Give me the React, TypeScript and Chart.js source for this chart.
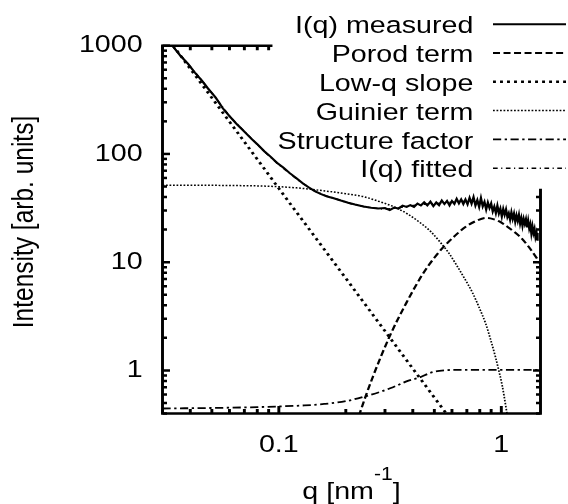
import { useEffect, useRef } from 'react';
import { Chart, registerables } from 'chart.js';

Chart.register(...registerables);

// ---------- data ----------
const measuredQ = [
  0.0335, 0.036, 0.039, 0.042, 0.045, 0.048, 0.052, 0.056, 0.06, 0.065, 0.07, 0.075, 0.08, 0.086, 0.092, 0.098,
  0.105, 0.112, 0.12, 0.128, 0.136, 0.145, 0.155, 0.165, 0.175, 0.19, 0.205, 0.22, 0.24, 0.26, 0.28,
  0.3, 0.315, 0.33, 0.345, 0.36, 0.375, 0.39, 0.405, 0.42, 0.435,
  0.45, 0.465, 0.48, 0.495, 0.51, 0.525, 0.54, 0.555, 0.57, 0.585, 0.6, 0.615, 0.63, 0.645, 0.66, 0.675, 0.69,
  0.705, 0.72, 0.735, 0.75, 0.765, 0.78, 0.795, 0.81, 0.825, 0.84, 0.855, 0.87, 0.885, 0.9, 0.915, 0.93, 0.945,
  0.96, 0.975, 0.99, 1.005, 1.02, 1.035, 1.05, 1.065, 1.08, 1.095, 1.11, 1.125, 1.14, 1.155, 1.17, 1.185, 1.2,
  1.215, 1.23, 1.245, 1.26, 1.275, 1.29, 1.305, 1.32, 1.335, 1.35, 1.365, 1.38, 1.395, 1.41, 1.425, 1.44, 1.455,
];
const measuredI = [
  979, 815, 682, 562, 478, 404, 332, 264, 224, 187, 161, 139, 123, 106, 94, 83,
  74.5, 66.5, 59.5, 53.5, 49.2, 45.3, 42.6, 40.4, 39.2, 37.1, 35.4, 34.1, 32.7, 31.9, 31.3,
  31.6, 30.3, 31.9, 31.3, 33.3, 32.4, 33.7, 32.4, 34.8, 33.4,
  35.7, 33.4, 36.2, 33.0, 35.6, 33.6, 37.2, 34.5, 36.8, 33.4, 36.8, 34.5, 38.5, 35.0, 38.0, 34.5, 38.0,
  34.3, 39.3, 34.8, 39.8, 33.4, 37.4, 32.5, 39.1, 32.8, 36.1, 30.7, 35.5, 31.7, 34.8, 29.5, 32.6, 28.5,
  33.2, 28.3, 31.2, 26.5, 31.0, 27.5, 30.7, 26.2, 28.3, 24.8, 28.9, 25.2, 28.0, 23.7, 27.0, 24.1, 27.3,
  22.8, 25.5, 21.8, 25.1, 22.7, 24.9, 21.0, 24.1, 20.5, 22.4, 18.5, 21.4, 18.6, 20.3, 17.1, 18.6, 15.8,
];

const porodQ = [0.2, 0.231, 0.265, 0.315, 0.374, 0.444, 0.5, 0.546, 0.62, 0.695, 0.78, 0.853, 0.92, 0.98, 1.08, 1.205, 1.33, 1.455, 1.5];
const porodI = [0.15, 0.4, 0.88, 2.07, 4.2, 7.8, 11.0, 13.6, 17.6, 21.4, 24.3, 25.6, 25.0, 23.8, 20.8, 17.4, 13.8, 10.6, 9.6];

const slopeQ = [0.0335, 0.05, 0.1, 0.2, 0.4, 0.6];
const slopeI = [1000, 330, 48, 7.1, 1.04, 0.34];

const guinierQ = [0.03, 0.05, 0.07, 0.085, 0.101, 0.12, 0.1426, 0.17, 0.2, 0.239, 0.28, 0.337, 0.38, 0.429, 0.48,
  0.527, 0.58, 0.625, 0.68, 0.743, 0.8, 0.851, 0.9, 0.944, 0.98, 1.01, 1.045, 1.08];
const guinierI = [51.5, 51.3, 50.9, 50.5, 49.8, 48.6, 46.9, 44.9, 42.8, 40.4, 36.6, 31.8, 27.8, 23.4, 19.3,
  15.6, 12.2, 9.6, 7.2, 5.2, 3.7, 2.7, 1.85, 1.3, 0.95, 0.72, 0.48, 0.32];

const structureQ = [0.03, 0.05, 0.08, 0.1, 0.13, 0.16, 0.2, 0.247, 0.29, 0.326, 0.38, 0.429, 0.48, 0.527, 0.6, 0.8, 1.0, 1.5];
const structureI = [0.445, 0.45, 0.458, 0.465, 0.475, 0.49, 0.52, 0.58, 0.64, 0.7, 0.8, 0.86, 0.95, 0.99, 1.01, 1.01, 1.01, 1.01];

const fittedQ = [0.0335, 0.04, 0.05, 0.06, 0.075, 0.09, 0.11, 0.13, 0.15, 0.18, 0.22, 0.26, 0.3, 0.35, 0.43, 0.55, 0.69, 0.8, 0.91, 1.0, 1.12, 1.29, 1.455];
const fittedI = [979, 640, 365, 225, 140, 97, 68, 52.5, 44, 38.5, 34.0, 31.9, 31.0, 32.0, 34.0, 35.2, 36.5, 35.3, 31.8, 29.5, 26.5, 23.1, 17.2];

const seriesLabels = ['I(q) measured', 'Porod term', 'Low-q slope', 'Guinier term', 'Structure factor', 'I(q) fitted'];

const xTickValues = [0.1, 1];
const yTickValues = [1, 10, 100, 1000];
const xMinorTicks = [0.03, 0.04, 0.05, 0.06, 0.07, 0.08, 0.09, 0.2, 0.3, 0.4, 0.5, 0.6, 0.7, 0.8, 0.9];
const yMinorTicks = [0.4, 0.5, 0.6, 0.7, 0.8, 0.9, 2, 3, 4, 5, 6, 7, 8, 9, 20, 30, 40, 50, 60, 70, 80, 90, 200, 300, 400, 500, 600, 700, 800, 900];

const xTitleMain = 'q [nm';
const xTitleSup = '-1';
const xTitleEnd = ']';
const yTitle = 'Intensity [arb. units]';

// ---------- layout ----------
const CANVAS_W = 568;
const CANVAS_H = 504;
const LAYOUT_W = 486;
const SX = CANVAS_W / LAYOUT_W;
const FONT = "'Liberation Sans', Arial, Helvetica, sans-serif";
const FONT_SIZE = 24.5;

const AREA_LEFT = 162.5 / SX;
const AREA_RIGHT = 540.5 / SX;
const AREA_TOP = 45.7;
const AREA_BOTTOM = 413.5;

const pts = (qs: number[], is: number[]) => qs.map((q, i) => ({ x: q, y: is[i] }));

const gnuplotFrame = {
  id: 'gnuplotFrame',
  beforeDraw(chart: any) {
    const ctx = chart.ctx;
    ctx.save();
    ctx.setTransform(SX, 0, 0, 1, 0, 0);
  },
  afterDraw(chart: any) {
    const ctx = chart.ctx;
    const { left, right, top, bottom } = chart.chartArea;
    const xs = chart.scales.x;
    const ys = chart.scales.y;
    const topEnd = 271 / SX;
    const rightStart = 190;
    ctx.save();
    ctx.strokeStyle = '#000';
    ctx.fillStyle = '#000';
    ctx.setLineDash([]);
    ctx.lineWidth = 2.5;
    ctx.lineCap = 'square';
    ctx.beginPath();
    ctx.moveTo(topEnd, top);
    ctx.lineTo(left, top);
    ctx.lineTo(left, bottom);
    ctx.lineTo(right, bottom);
    ctx.lineTo(right, rightStart);
    ctx.stroke();

    ctx.lineCap = 'butt';
    ctx.lineWidth = 2.5;
    const xTick = (v: number, len: number) => {
      const px = xs.getPixelForValue(v);
      ctx.beginPath();
      ctx.moveTo(px, bottom);
      ctx.lineTo(px, bottom - len);
      if (px <= topEnd) {
        ctx.moveTo(px, top);
        ctx.lineTo(px, top + len);
      }
      ctx.stroke();
    };
    const yTick = (v: number, len: number) => {
      const py = ys.getPixelForValue(v);
      const l = len / SX;
      ctx.beginPath();
      ctx.moveTo(left, py);
      ctx.lineTo(left + l, py);
      if (py >= rightStart - 1) {
        ctx.moveTo(right, py);
        ctx.lineTo(right - l, py);
      }
      ctx.stroke();
    };
    xTickValues.forEach((v) => xTick(v, 7.5));
    xMinorTicks.forEach((v) => xTick(v, 4.5));
    yTickValues.forEach((v) => yTick(v, 7.5));
    yMinorTicks.forEach((v) => yTick(v, 4.5));

    // key
    const textX = 405;
    const x0 = 493 / SX;
    const x1 = 566 / SX;
    ctx.font = `${FONT_SIZE}px ${FONT}`;
    ctx.textAlign = 'right';
    ctx.textBaseline = 'middle';
    chart.data.datasets.forEach((ds: any, i: number) => {
      const y = 24.2 + i * 28.8;
      ctx.save();
      ctx.lineWidth = ds.borderWidth;
      ctx.setLineDash(ds.borderDash || []);
      ctx.beginPath();
      ctx.moveTo(x0, y);
      ctx.lineTo(x1, y);
      ctx.stroke();
      ctx.restore();
      ctx.fillText(ds.label, textX, y + 2.5);
    });

    // y title (rotated)
    ctx.save();
    ctx.translate(21.5, 222);
    ctx.rotate(-Math.PI / 2);
    ctx.textAlign = 'center';
    ctx.textBaseline = 'middle';
    ctx.fillText(yTitle, 0, 0);
    ctx.restore();

    // x title with superscript
    const supFont = `18px ${FONT}`;
    const mainFont = `${FONT_SIZE}px ${FONT}`;
    ctx.textAlign = 'left';
    ctx.textBaseline = 'alphabetic';
    ctx.font = mainFont;
    const w1 = ctx.measureText(xTitleMain).width;
    const w3 = ctx.measureText(xTitleEnd).width;
    ctx.font = supFont;
    const w2 = ctx.measureText(xTitleSup).width;
    let tx = (left + right) / 2 - (w1 + w2 + w3) / 2;
    const base = 499;
    ctx.font = mainFont;
    ctx.fillText(xTitleMain, tx, base);
    tx += w1;
    ctx.font = supFont;
    ctx.fillText(xTitleSup, tx, base - 19);
    tx += w2;
    ctx.font = mainFont;
    ctx.fillText(xTitleEnd, tx, base);
    ctx.restore();
    ctx.restore();
  },
};

export default function App() {
  const ref = useRef<HTMLCanvasElement | null>(null);

  useEffect(() => {
    const canvas = ref.current;
    if (!canvas) return;
    canvas.width = LAYOUT_W;
    canvas.height = CANVAS_H;
    canvas.style.width = `${CANVAS_W}px`;
    canvas.style.height = `${CANVAS_H}px`;

    const line = (label: string, data: any[], width: number, dash: number[], smooth: boolean) => ({
      label,
      data,
      borderColor: '#000',
      backgroundColor: '#000',
      borderWidth: width,
      borderDash: dash,
      pointRadius: 0,
      fill: false,
      cubicInterpolationMode: smooth ? 'monotone' : 'default',
    });

    const chart = new Chart(canvas, {
      type: 'line',
      data: {
        datasets: [
          line(seriesLabels[0], pts(measuredQ, measuredI), 2, [], false),
          line(seriesLabels[1], pts(porodQ, porodI), 2, [6, 3], true),
          line(seriesLabels[2], pts(slopeQ, slopeI), 2.5, [2.5, 3.5], false),
          line(seriesLabels[3], pts(guinierQ, guinierI), 1.5, [1.5, 1.5], true),
          line(seriesLabels[4], pts(structureQ, structureI), 1.8, [7, 3, 2, 3], true),
          line(seriesLabels[5], pts(fittedQ, fittedI), 1.5, [4, 3, 1, 3], true),
        ] as any,
      },
      options: {
        responsive: false,
        animation: false,
        devicePixelRatio: 1,
        events: [],
        layout: {
          padding: { left: 0, right: LAYOUT_W - AREA_RIGHT, top: AREA_TOP, bottom: 0 },
        },
        plugins: {
          legend: { display: false },
          tooltip: { enabled: false },
          title: { display: false },
        },
        scales: {
          x: {
            type: 'logarithmic',
            position: 'bottom',
            min: 0.03,
            max: 1.5,
            bounds: 'data',
            grid: { display: false, drawTicks: false },
            border: { display: false },
            ticks: {
              color: '#000',
              font: { family: FONT, size: FONT_SIZE },
              padding: 17,
              maxRotation: 0,
              autoSkip: false,
              callback: (v: any) => String(v),
            },
            afterBuildTicks: (s: any) => {
              s.ticks = xTickValues.map((v) => ({ value: v }));
            },
            afterFit: (s: any) => {
              s.height = CANVAS_H - AREA_BOTTOM;
            },
          },
          y: {
            type: 'logarithmic',
            position: 'left',
            min: 0.4,
            max: 1000,
            bounds: 'data',
            grid: { display: false, drawTicks: false },
            border: { display: false },
            ticks: {
              color: '#000',
              font: { family: FONT, size: FONT_SIZE },
              padding: 17,
              autoSkip: false,
              callback: (v: any) => String(v),
            },
            afterBuildTicks: (s: any) => {
              s.ticks = yTickValues.map((v) => ({ value: v }));
            },
            afterFit: (s: any) => {
              s.width = AREA_LEFT;
            },
          },
        },
      } as any,
      plugins: [gnuplotFrame],
    });

    canvas.width = CANVAS_W;
    chart.draw();

    return () => {
      chart.destroy();
    };
  }, []);

  return (
    <div style={{ position: 'fixed', left: 0, top: 0, width: CANVAS_W, height: CANVAS_H, background: '#fff' }}>
      <canvas ref={ref} />
    </div>
  );
}
